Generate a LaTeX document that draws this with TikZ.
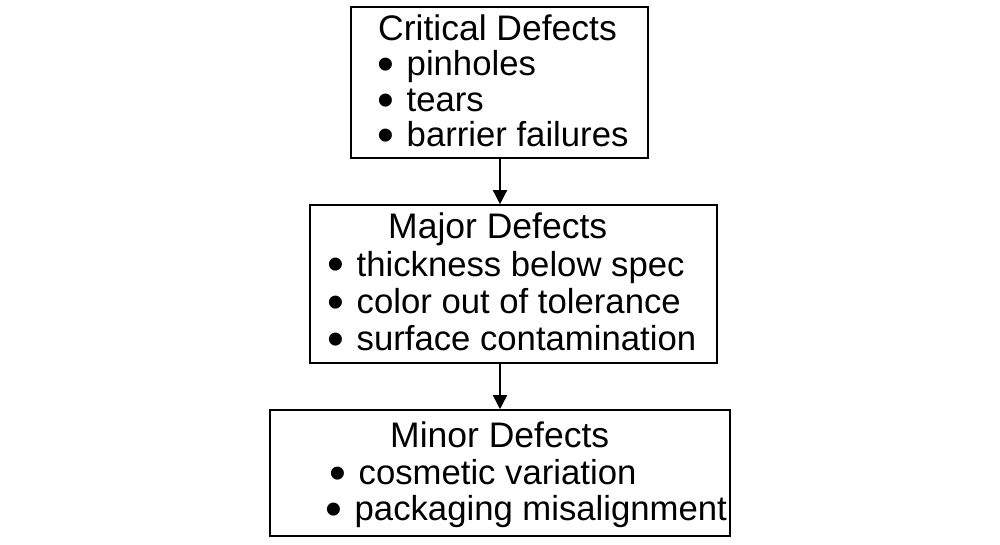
\documentclass[tikz,border=0pt]{standalone}
\usepackage{fontspec}
\setmainfont{Liberation Sans}
\usetikzlibrary{arrows.meta}
\newcommand{\bul}{\makebox[29pt][l]{\smash{\raisebox{-5pt}{\fontsize{48}{35}\selectfont •}}}}
\begin{document}
\begin{tikzpicture}[x=1pt,y=-1pt,
  box/.style={draw=black,line width=1.6pt,inner sep=0pt,fill=none},
  ttl/.style={anchor=base west,inner sep=0pt,font=\fontsize{35.5}{35}\selectfont},
  txt/.style={anchor=base west,inner sep=0pt,font=\fontsize{34.7}{35}\selectfont},
  arr/.style={line width=1.6pt,-{Triangle[length=14pt,width=14pt]}}]
\useasboundingbox (0,0) rectangle (1000,545);
\node[box,minimum width=297pt,minimum height=151pt] (b1) at (499.5,82.5) {};
\node[box,minimum width=407pt,minimum height=158pt] (b2) at (513.5,284) {};
\node[box,minimum width=460pt,minimum height=126pt] (b3) at (500,473) {};
% box 1 text
\node[ttl] (t1) at (378,41) {Critical Defects};
\node[txt] (t1a) at (377.5,76) {\bul pinholes};
\node[txt] (t1b) at (377.5,112) {\bul tears};
\node[txt] (t1c) at (377.5,147) {\bul barrier failures};
% box 2 text
\node[ttl] (t2) at (388,238) {Major Defects};
\node[txt] (t2a) at (327.5,276) {\bul thickness below spec};
\node[txt] (t2b) at (327.5,313) {\bul color out of tolerance};
\node[txt] (t2c) at (327.5,350) {\bul surface contamination};
% box 3 text
\node[ttl] (t3) at (390,447) {Minor Defects};
\node[txt] (t3a) at (329.5,484) {\bul cosmetic variation};
\node[txt] (t3b) at (325.5,520) {\bul packaging misalignment};
% arrows
\coordinate (a1s) at (500,158);
\draw[arr] (a1s) -- (a1s |- b2.north);
\draw[arr] (a1s |- b2.south) -- (a1s |- b3.north);
\end{tikzpicture}
\end{document}
